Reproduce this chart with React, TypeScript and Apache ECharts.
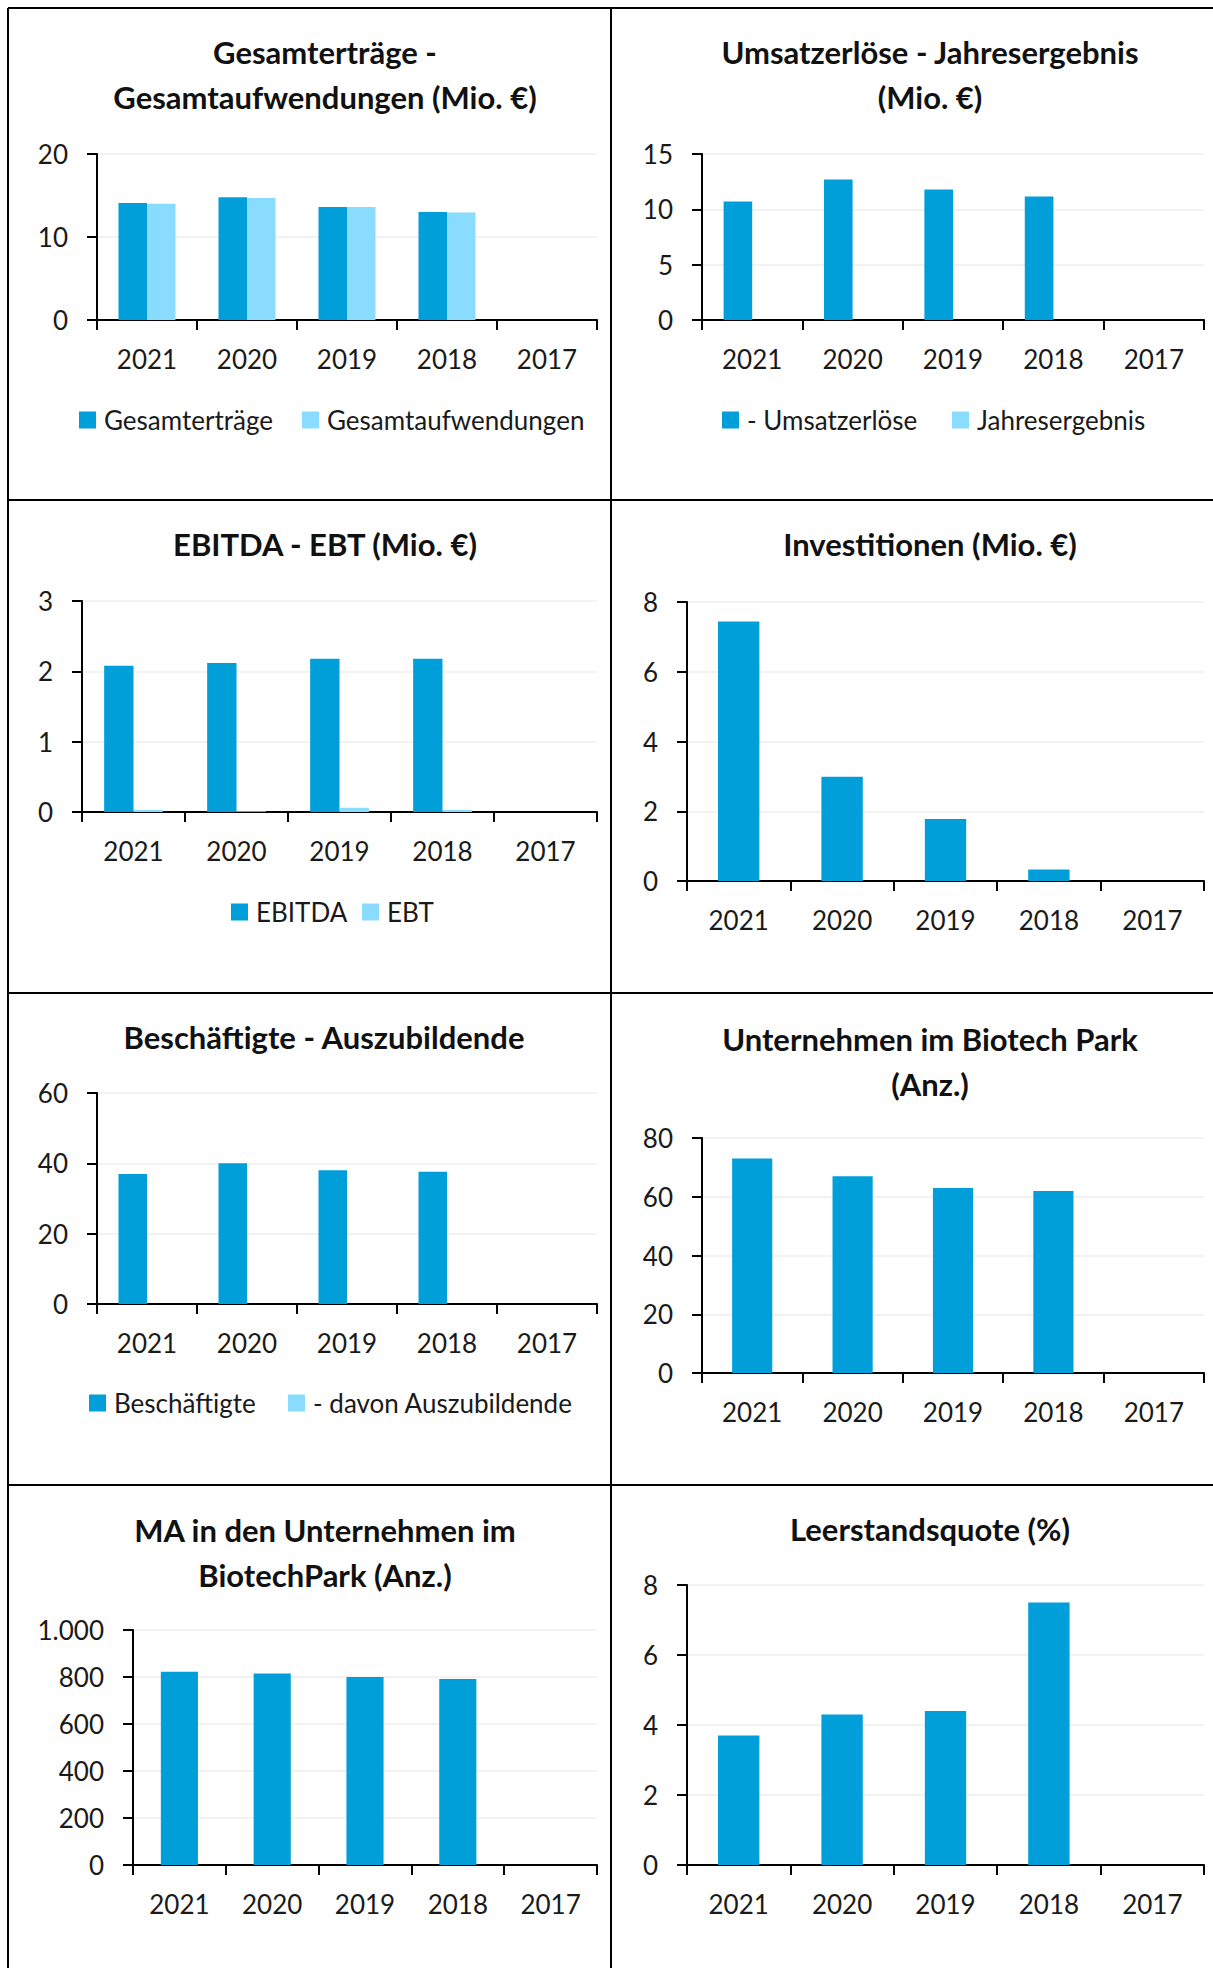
import React, { useEffect, useRef } from "react";
import * as echarts from "echarts";

const years = ["2021", "2020", "2019", "2018", "2017"];
const gesamtertraege = [14.1, 14.8, 13.6, 13.0, null];
const gesamtaufwendungen = [14.0, 14.7, 13.6, 12.95, null];
const umsatzerloese = [10.7, 12.7, 11.8, 11.15, null];
const jahresergebnis = [0, 0, 0, 0, null];
const ebitda = [2.08, 2.12, 2.18, 2.18, null];
const ebt = [0.03, 0.01, 0.06, 0.03, null];
const investitionen = [7.44, 2.99, 1.78, 0.33, null];
const beschaeftigte = [37, 40, 38, 37.6, null];
const auszubildende = [0, 0, 0, 0, null];
const unternehmen = [73, 67, 63, 62, null];
const mitarbeiter = [822, 815, 800, 791, null];
const leerstand = [3.7, 4.3, 4.4, 7.5, null];

const yMax = [20, 15, 3, 8, 60, 80, 1000, 8];
const yInterval = [10, 5, 1, 2, 20, 20, 200, 2];

const titles = [
  "Gesamterträge -\nGesamtaufwendungen (Mio. €)",
  "Umsatzerlöse - Jahresergebnis\n(Mio. €)",
  "EBITDA - EBT (Mio. €)",
  "Investitionen (Mio. €)",
  "Beschäftigte - Auszubildende",
  "Unternehmen im Biotech Park\n(Anz.)",
  "MA in den Unternehmen im\nBiotechPark (Anz.)",
  "Leerstandsquote (%)",
];

const DARK = "#009FD9";
const LIGHT = "#8ADCFF";
const FONT = "Lato";

export default function App() {
  const ref = useRef<HTMLDivElement>(null);
  useEffect(() => {
    if (!ref.current) return;
    const chart = echarts.init(ref.current, null, { renderer: "svg" });

    const grids = [
      { left: 97, top: 154, width: 500, height: 166 },
      { left: 702, top: 154, width: 502, height: 166 },
      { left: 82, top: 601, width: 515, height: 211 },
      { left: 687, top: 602, width: 517, height: 279 },
      { left: 97, top: 1093, width: 500, height: 211 },
      { left: 702, top: 1138, width: 502, height: 235 },
      { left: 133, top: 1630, width: 464, height: 235 },
      { left: 687, top: 1585, width: 517, height: 280 },
    ];

    const titlePos = [
      { x: 325, y: 74 },
      { x: 930, y: 74 },
      { x: 325, y: 544 },
      { x: 930, y: 544 },
      { x: 324, y: 1037 },
      { x: 930, y: 1061 },
      { x: 325, y: 1552 },
      { x: 930, y: 1529 },
    ];

    const fmt = (v: number) =>
      String(v).replace(/\B(?=(\d{3})+(?!\d))/g, ".");

    const xAxis = grids.map((_, i) => ({
      type: "category",
      gridIndex: i,
      data: years,
      boundaryGap: true,
      axisLine: { show: true, lineStyle: { color: "#000", width: 2 } },
      axisTick: { show: true, length: 10, lineStyle: { color: "#000", width: 2 } },
      axisLabel: {
        interval: 0,
        color: "#1a1a1a",
        fontSize: 26,
        fontFamily: FONT,
        margin: 26,
        lineHeight: 26,
      },
      splitLine: { show: false },
    }));

    const yAxis = grids.map((_, i) => ({
      type: "value",
      gridIndex: i,
      min: 0,
      max: yMax[i],
      interval: yInterval[i],
      axisLine: { show: true, lineStyle: { color: "#000", width: 2 } },
      axisTick: { show: true, length: 10, lineStyle: { color: "#000", width: 2 } },
      axisLabel: {
        color: "#1a1a1a",
        fontSize: 26,
        fontFamily: FONT,
        margin: 29,
        formatter: fmt,
      },
      splitLine: { show: true, lineStyle: { color: "#eeeeee", width: 1.5 } },
    }));

    const pairW = "28.5%";
    const single = "40%";
    const bar = (name: string, data: any[], idx: number, color: string, w: string) => ({
      type: "bar",
      name,
      data,
      xAxisIndex: idx,
      yAxisIndex: idx,
      barWidth: w,
      barGap: "0%",
      itemStyle: { color },
    });

    const series = [
      bar("Gesamterträge", gesamtertraege, 0, DARK, pairW),
      bar("Gesamtaufwendungen", gesamtaufwendungen, 0, LIGHT, pairW),
      bar("- Umsatzerlöse", umsatzerloese, 1, DARK, pairW),
      bar("Jahresergebnis", jahresergebnis, 1, LIGHT, pairW),
      bar("EBITDA", ebitda, 2, DARK, pairW),
      bar("EBT", ebt, 2, LIGHT, pairW),
      bar("Investitionen", investitionen, 3, DARK, single),
      bar("Beschäftigte", beschaeftigte, 4, DARK, pairW),
      bar("- davon Auszubildende", auszubildende, 4, LIGHT, pairW),
      bar("Unternehmen", unternehmen, 5, DARK, single),
      bar("MA", mitarbeiter, 6, DARK, single),
      bar("Leerstandsquote", leerstand, 7, DARK, single),
    ];

    const legendItems = [
      { name: "Gesamterträge", left: 79, cy: 420 },
      { name: "Gesamtaufwendungen", left: 302, cy: 420 },
      { name: "- Umsatzerlöse", left: 722, cy: 420 },
      { name: "Jahresergebnis", left: 952, cy: 420 },
      { name: "EBITDA", left: 231, cy: 912 },
      { name: "EBT", left: 362, cy: 912 },
      { name: "Beschäftigte", left: 89, cy: 1403 },
      { name: "- davon Auszubildende", left: 288, cy: 1403 },
    ];

    const legend = legendItems.map((it) => ({
      data: [it.name],
      left: it.left,
      top: it.cy - 14,
      padding: 0,
      icon: "rect",
      itemWidth: 17,
      itemHeight: 17,
      selectedMode: false,
      textStyle: {
        color: "#1a1a1a",
        fontSize: 26,
        fontFamily: FONT,
        lineHeight: 28,
        padding: [0, 0, 0, 3],
      },
    }));

    const lineStyle = { stroke: "#000", lineWidth: 2 };
    const borders = [
      [8, 8, 1213, 8],
      [8, 8, 8, 1968],
      [611, 8, 611, 1968],
      [8, 500, 1213, 500],
      [8, 993, 1213, 993],
      [8, 1485, 1213, 1485],
    ].map(([x1, y1, x2, y2]) => ({
      type: "line",
      shape: { x1, y1, x2, y2 },
      style: lineStyle,
      silent: true,
    }));

    const titleEls = titles.map((t, i) => ({
      type: "text",
      x: titlePos[i].x,
      y: titlePos[i].y,
      style: {
        text: t,
        font: `bold 31px ${FONT}`,
        fill: "#111",
        lineHeight: 45,
        align: "center",
        verticalAlign: "middle",
        textAlign: "center",
        textVerticalAlign: "middle",
      },
    }));

    chart.setOption({
      animation: false,
      backgroundColor: "#fff",
      grid: grids.map((g) => ({ ...g, containLabel: false })),
      xAxis,
      yAxis,
      legend,
      series,
      graphic: [...borders, ...titleEls],
    });

    return () => chart.dispose();
  }, []);

  return (
    <div
      ref={ref}
      style={{ position: "absolute", left: 0, top: 0, width: 1213, height: 1968 }}
    />
  );
}
